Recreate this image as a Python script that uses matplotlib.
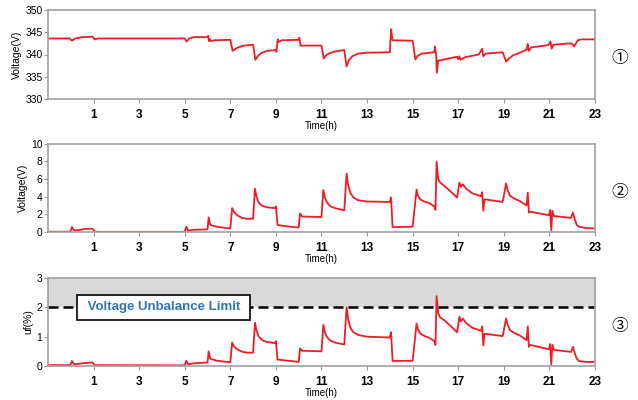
import matplotlib
matplotlib.use('Agg')
import matplotlib.pyplot as plt

plt.rcParams['font.family'] = ['Liberation Sans', 'DejaVu Sans']

# panel 1: phase voltage (V)
p1 = [(-1, 343.6), (-0.05, 343.6), (0.05, 343.1), (0.2, 343.6), (0.5, 343.9), (0.95, 344.0),
      (1.05, 343.4), (1.2, 343.6), (5.0, 343.6), (5.08, 342.9), (5.2, 343.6), (5.4, 343.9),
      (6.0, 343.9), (6.03, 344.2), (6.06, 343.0), (6.1, 343.5), (6.15, 343.0), (6.3, 343.2),
      (7.0, 343.3), (7.1, 340.8), (7.2, 341.2), (7.35, 341.6), (7.6, 342.0), (8.0, 342.2),
      (8.1, 338.8), (8.2, 339.6), (8.35, 340.3), (8.6, 340.8), (9.0, 341.0), (9.02, 340.6),
      (9.08, 343.4), (9.12, 342.8), (9.25, 343.2), (10.0, 343.3), (10.03, 343.8), (10.08, 342.0),
      (11.0, 342.0), (11.1, 339.1), (11.2, 339.8), (11.35, 340.3), (11.6, 340.7), (12.0, 341.0),
      (12.1, 337.3), (12.2, 338.7), (12.35, 339.6), (12.6, 340.2), (13.0, 340.4), (14.0, 340.5),
      (14.05, 345.7), (14.12, 343.2), (15.0, 343.1), (15.12, 338.9), (15.22, 339.7), (15.4, 340.2),
      (15.95, 340.5), (15.98, 341.8), (16.03, 340.0), (16.06, 335.9), (16.12, 338.6), (16.5, 339.0),
      (16.95, 339.5), (17.0, 338.9), (17.05, 339.6), (17.1, 338.8), (17.3, 339.4), (17.9, 340.0),
      (18.05, 341.3), (18.1, 339.6), (18.2, 340.2), (18.95, 340.5), (19.1, 338.4), (19.2, 339.0),
      (19.4, 339.8), (19.7, 340.4), (20.0, 341.1), (20.05, 342.4), (20.1, 340.8), (20.2, 341.6),
      (20.95, 342.1), (21.05, 342.9), (21.1, 341.3), (21.18, 342.2), (21.9, 342.5), (22.0, 342.4),
      (22.08, 341.8), (22.25, 343.2), (22.4, 343.4), (23, 343.4)]

# panel 2: voltage difference (V)
p2 = [(-1, 0.03), (-0.02, 0.03), (0.05, 0.55), (0.15, 0.2), (0.3, 0.2), (0.6, 0.33), (0.95, 0.38),
      (1.05, 0.05), (1.2, 0.02), (5.0, 0.02), (5.07, 0.6), (5.15, 0.15), (5.4, 0.25), (6.0, 0.3),
      (6.05, 1.65), (6.12, 0.8), (6.4, 0.6), (7.0, 0.4), (7.08, 2.7), (7.15, 2.3), (7.3, 1.9),
      (7.5, 1.6), (7.7, 1.5), (8.0, 1.5), (8.08, 4.9), (8.15, 4.0), (8.25, 3.3), (8.4, 2.95),
      (8.6, 2.8), (8.95, 2.7), (9.0, 2.9), (9.07, 0.8), (9.3, 0.7), (10.0, 0.5), (10.06, 2.1),
      (10.15, 1.75), (11.0, 1.7), (11.08, 4.75), (11.15, 3.9), (11.25, 3.3), (11.4, 2.9),
      (11.6, 2.7), (12.0, 2.45), (12.1, 6.6), (12.17, 5.3), (12.27, 4.4), (12.4, 3.9), (12.6, 3.6),
      (13.0, 3.45), (14.0, 3.4), (14.05, 3.9), (14.12, 0.55), (15.0, 0.6), (15.17, 4.8),
      (15.23, 4.1), (15.33, 3.7), (15.5, 3.45), (15.7, 3.3), (15.95, 2.9), (16.0, 2.5),
      (16.05, 7.95), (16.12, 6.0), (16.2, 5.6), (16.4, 5.2), (16.7, 4.5), (16.95, 3.9),
      (17.05, 5.6), (17.12, 5.1), (17.2, 5.4), (17.35, 4.9), (17.6, 4.4), (18.0, 4.05),
      (18.05, 4.5), (18.1, 2.4), (18.15, 3.7), (18.95, 3.4), (19.1, 5.5), (19.17, 4.7),
      (19.27, 4.1), (19.45, 3.8), (19.7, 3.5), (20.0, 3.0), (20.05, 4.45), (20.1, 2.2),
      (20.15, 2.3), (20.98, 1.9), (21.03, 2.5), (21.08, 0.2), (21.13, 2.4), (21.2, 1.8),
      (21.95, 1.6), (22.03, 2.2), (22.12, 1.4), (22.2, 0.8), (22.3, 0.6), (22.6, 0.45), (23, 0.4)]

# panel 3: unbalance factor (%)
p3 = [(-1, 0.03), (-0.02, 0.03), (0.05, 0.17), (0.15, 0.06), (0.3, 0.07), (0.6, 0.1), (0.95, 0.12),
      (1.05, 0.03), (5.0, 0.02), (5.07, 0.18), (5.15, 0.06), (5.4, 0.09), (6.0, 0.12), (6.05, 0.5),
      (6.12, 0.25), (6.4, 0.18), (7.0, 0.13), (7.08, 0.8), (7.15, 0.68), (7.3, 0.57), (7.5, 0.49),
      (7.7, 0.46), (8.0, 0.45), (8.08, 1.48), (8.15, 1.2), (8.25, 1.0), (8.4, 0.88), (8.6, 0.82),
      (8.95, 0.78), (9.0, 0.85), (9.07, 0.22), (9.3, 0.2), (10.0, 0.14), (10.06, 0.6), (10.15, 0.52),
      (11.0, 0.5), (11.08, 1.4), (11.15, 1.15), (11.25, 0.98), (11.4, 0.86), (11.6, 0.8),
      (12.0, 0.73), (12.1, 2.0), (12.17, 1.6), (12.27, 1.3), (12.4, 1.15), (12.6, 1.06),
      (13.0, 1.0), (14.0, 0.97), (14.05, 1.15), (14.12, 0.17), (15.0, 0.18), (15.17, 1.45),
      (15.23, 1.24), (15.33, 1.11), (15.5, 1.03), (15.7, 0.97), (15.95, 0.85), (16.0, 0.72),
      (16.05, 2.38), (16.12, 1.8), (16.2, 1.66), (16.4, 1.55), (16.7, 1.34), (16.95, 1.15),
      (17.05, 1.68), (17.12, 1.52), (17.2, 1.62), (17.35, 1.46), (17.6, 1.31), (18.0, 1.2),
      (18.05, 1.35), (18.1, 0.7), (18.15, 1.1), (18.95, 1.02), (19.1, 1.62), (19.17, 1.4),
      (19.27, 1.22), (19.45, 1.13), (19.7, 1.04), (20.0, 0.88), (20.05, 1.35), (20.1, 0.65),
      (20.15, 0.72), (20.98, 0.57), (21.03, 0.75), (21.08, 0.06), (21.13, 0.72), (21.2, 0.55),
      (21.95, 0.48), (22.03, 0.65), (22.12, 0.42), (22.2, 0.25), (22.3, 0.17), (22.6, 0.14),
      (23, 0.14)]

xticks = [1, 3, 5, 7, 9, 11, 13, 15, 17, 19, 21, 23]
ylims = [(330, 350), (0, 10), (0, 3)]
yticks = [[330, 335, 340, 345, 350], [0, 2, 4, 6, 8, 10], [0, 1, 2, 3]]
ylabels = ['Voltage(V)', 'Voltage(V)', 'uf(%)']
marks = ['\u2460', '\u2461', '\u2462']
limit = 2.0

fig = plt.figure(figsize=(6.38, 4.0), dpi=100)
boxes = [[0.0752, 0.7525, 0.8574, 0.2225],
         [0.0752, 0.420, 0.8574, 0.221],
         [0.0752, 0.085, 0.8574, 0.220]]

for i, (data, box) in enumerate(zip([p1, p2, p3], boxes)):
    ax = fig.add_axes(box)
    t, v = zip(*data)
    if i == 2:
        ax.axhspan(limit + 0.05, ylims[i][1], color='#d9d9d9', zorder=0)
        ax.axhline(limit, color='black', lw=1.8, ls=(0, (4, 2)), zorder=1)
    ax.plot(t, v, color='#ee1c25', lw=1.3, zorder=2)
    ax.set_xlim(-1, 23)
    ax.set_ylim(*ylims[i])
    ax.set_xticks(xticks)
    ax.set_xticklabels([str(x) for x in xticks], fontsize=8.5, fontweight='bold')
    ax.set_yticks(yticks[i])
    ax.tick_params(axis='y', labelsize=7.5, length=3, color='#999999', pad=1)
    ax.tick_params(axis='x', length=3, color='#999999', pad=4)
    for s in ax.spines.values():
        s.set_color('#a0a0a0')
        s.set_linewidth(1.2)
    ax.set_xlabel('Time(h)', fontsize=7, labelpad=0)
    ax.set_ylabel(ylabels[i], fontsize=7.5, labelpad=2)
    fig.text(0.972, box[1] + box[3] * 0.45, marks[i], fontsize=12,
             family=['Noto Sans CJK KR', 'DejaVu Sans'], ha='center', va='center')
    if i == 2:
        ax.text(4.07, limit, ' Voltage Unbalance Limit ', fontsize=9.5, fontweight='bold',
                color='#2e75b6', ha='center', va='center', zorder=3,
                bbox=dict(boxstyle='square,pad=0.5', fc='white', ec='black', lw=1.2))

fig.savefig('out.png', dpi=100)
